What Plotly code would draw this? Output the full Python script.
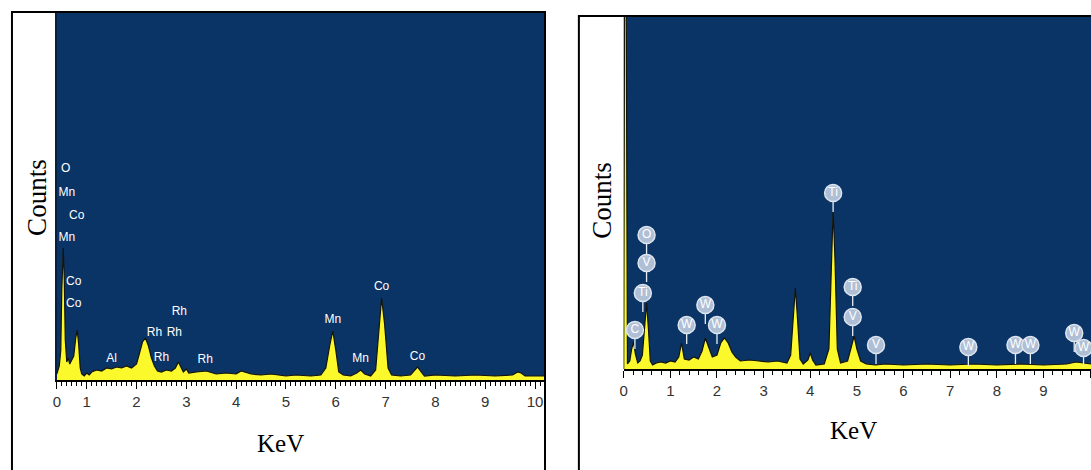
import plotly.graph_objects as go

# ---------------- Left spectrum (Co / Mn / Rh sample) ----------------
left_kev = [0.40, 0.42, 0.45, 0.48, 0.50, 0.53, 0.55, 0.57, 0.60, 0.63, 0.66, 0.70, 0.74, 0.78,
            0.81, 0.84, 0.87, 0.90, 0.95, 1.00, 1.05, 1.10, 1.20, 1.30, 1.40, 1.50, 1.60, 1.70,
            1.80, 1.90, 2.00, 2.05, 2.12, 2.18, 2.24, 2.30, 2.36, 2.42, 2.50, 2.60, 2.70, 2.78,
            2.84, 2.88, 2.94, 3.00, 3.05, 3.20, 3.40, 3.60, 3.80, 4.00, 4.10, 4.30, 4.50, 4.70,
            5.00, 5.20, 5.50, 5.70, 5.80, 5.88, 5.94, 6.00, 6.06, 6.15, 6.30, 6.42, 6.50, 6.58,
            6.70, 6.80, 6.86, 6.92, 6.98, 7.05, 7.12, 7.30, 7.50, 7.58, 7.64, 7.70, 7.78, 8.00,
            8.40, 8.80, 9.20, 9.55, 9.65, 9.72, 9.80, 10.20]
left_counts = [6, 10, 14, 30, 90, 132, 100, 40, 18, 22, 16, 20, 24, 42,
               50, 35, 12, 6, 4, 7, 5, 8, 10, 9, 12, 11, 13, 12,
               14, 12, 16, 25, 38, 42, 34, 22, 14, 9, 8, 10, 9, 12,
               18, 14, 8, 11, 7, 8, 9, 6, 7, 6, 9, 6, 5, 6,
               4, 5, 4, 5, 12, 35, 49, 30, 8, 5, 4, 7, 10, 6,
               4, 10, 50, 82, 56, 12, 5, 4, 5, 10, 13, 9, 4, 5,
               4, 5, 4, 5, 8, 7, 4, 4]

left_label_text = ["O", "Mn", "Co", "Mn", "Co", "Co", "Al", "Rh", "Rh", "Rh", "Rh", "Rh",
                   "Mn", "Mn", "Co", "Co"]
left_label_kev = [0.58, 0.60, 0.80, 0.60, 0.74, 0.74, 1.50, 2.36, 2.76, 2.86, 2.50, 3.38,
                  5.94, 6.50, 6.92, 7.64]
left_label_counts = [211, 187, 164, 142, 98, 76, 21, 47, 47, 68, 22, 20,
                     60, 21, 93, 23]

left_tickvals = [0.4, 1, 2, 3, 4, 5, 6, 7, 8, 9, 10]
left_ticktext = ["0", "1", "2", "3", "4", "5", "6", "7", "8", "9", "10"]

# ---------------- Right spectrum (Ti / V / W sample) ----------------
right_kev = [0.00, 0.02, 0.05, 0.08, 0.13, 0.17, 0.21, 0.25, 0.30, 0.35, 0.40, 0.45, 0.49, 0.53,
             0.57, 0.62, 0.70, 0.80, 0.90, 1.00, 1.10, 1.18, 1.24, 1.30, 1.40, 1.50, 1.60, 1.68,
             1.75, 1.82, 1.90, 2.00, 2.08, 2.16, 2.24, 2.32, 2.40, 2.50, 2.70, 2.90, 3.10, 3.30,
             3.50, 3.58, 3.64, 3.68, 3.72, 3.78, 3.85, 3.95, 4.00, 4.05, 4.12, 4.30, 4.40, 4.46,
             4.49, 4.53, 4.58, 4.65, 4.80, 4.88, 4.94, 5.00, 5.08, 5.20, 5.40, 5.60, 6.00, 6.50,
             7.00, 7.50, 8.00, 8.50, 9.00, 9.50, 9.70, 10.02]
right_counts = [0, 420, 420, 5, 8, 20, 27, 15, 6, 8, 14, 40, 66, 40,
                8, 4, 6, 7, 6, 8, 7, 12, 26, 10, 9, 12, 10, 18,
                31, 22, 12, 14, 26, 31, 26, 17, 12, 8, 9, 8, 7, 8,
                6, 14, 50, 81, 55, 10, 5, 9, 16, 9, 4, 5, 20, 110,
                159, 110, 20, 6, 8, 22, 33, 20, 8, 5, 4, 5, 4, 5,
                4, 5, 4, 5, 4, 5, 7, 5]

right_label_text = ["C", "O", "V", "Ti", "W", "W", "W", "Ti", "Ti", "V", "V",
                    "W", "W", "W", "W", "W"]
right_label_kev = [0.24, 0.49, 0.49, 0.41, 1.35, 1.75, 2.00, 4.49, 4.91, 4.91, 5.41,
                   7.39, 8.40, 8.72, 9.66, 9.86]
right_label_counts = [39, 134, 106, 76, 44, 64, 44, 176, 82, 52, 24,
                      22, 24, 24, 36, 21]

right_tickvals = [0, 1, 2, 3, 4, 5, 6, 7, 8, 9, 10]
right_ticktext = ["0", "1", "2", "3", "4", "5", "6", "7", "8", "9", "10"]

# ---------------- Style ----------------
W, H = 1091, 470
BLUE = "#0b3466"
YELLOW = "#fbf82c"
NARROW = "Liberation Sans Narrow, Arial Narrow, Liberation Sans, sans-serif"
SERIF = "Liberation Serif, Times New Roman, serif"
STEM = 19

fig = go.Figure()

# left spectrum
fig.add_trace(go.Scatter(x=left_kev, y=left_counts, mode="lines", fill="tozeroy",
                         fillcolor=YELLOW, line=dict(color="#14140a", width=1.2),
                         xaxis="x", yaxis="y", hoverinfo="skip", showlegend=False))
fig.add_trace(go.Scatter(x=left_label_kev, y=left_label_counts, mode="text",
                         text=left_label_text, textposition="middle center",
                         textfont=dict(family=NARROW, size=12, color="white"),
                         xaxis="x", yaxis="y", hoverinfo="skip", showlegend=False))

# right spectrum
fig.add_trace(go.Scatter(x=right_kev, y=right_counts, mode="lines", fill="tozeroy",
                         fillcolor=YELLOW, line=dict(color="#14140a", width=1.2),
                         xaxis="x2", yaxis="y2", hoverinfo="skip", showlegend=False))

# stems under the marker circles
stem_x, stem_y = [], []
for k, c in zip(right_label_kev, right_label_counts):
    stem_x += [k, k, None]
    stem_y += [c, c - STEM, None]
fig.add_trace(go.Scatter(x=stem_x, y=stem_y, mode="lines",
                         line=dict(color="#e8eef5", width=1.3),
                         xaxis="x2", yaxis="y2", hoverinfo="skip", showlegend=False))
fig.add_trace(go.Scatter(x=right_label_kev, y=right_label_counts, mode="markers+text",
                         text=right_label_text, textposition="middle center",
                         marker=dict(size=17, color="#aebfd6",
                                     line=dict(color="#dde5ef", width=1.5)),
                         textfont=dict(family=NARROW, size=12, color="white"),
                         xaxis="x2", yaxis="y2", hoverinfo="skip", showlegend=False,
                         cliponaxis=False))

axis_common = dict(showgrid=False, zeroline=False, showline=True, linecolor="black",
                   linewidth=1.5, ticks="outside", ticklen=7, tickwidth=1.2,
                   tickcolor="black", tickfont=dict(family=NARROW, size=15, color="#333333"),
                   fixedrange=True)

fig.update_layout(
    width=W, height=H,
    margin=dict(l=0, r=0, t=0, b=0),
    paper_bgcolor="white",
    plot_bgcolor=BLUE,
    xaxis=dict(domain=[53 / W, 543 / W], range=[0.4, 10.2], anchor="y",
               tickmode="array", tickvals=left_tickvals, ticktext=left_ticktext,
               minor=dict(tickmode="linear", tick0=0, dtick=0.1, ticks="outside",
                          ticklen=4, tickcolor="black"),
               **axis_common),
    yaxis=dict(domain=[1 - 380 / H, 1 - 13 / H], range=[0, 367], anchor="x",
               showgrid=False, zeroline=False, showticklabels=False, ticks="",
               showline=True, linecolor="#07203f", linewidth=2, fixedrange=True),
    xaxis2=dict(domain=[622 / W, 1.0], range=[0, 10.02], anchor="y2",
                tickmode="array", tickvals=right_tickvals, ticktext=right_ticktext,
                minor=dict(tickmode="linear", tick0=0, dtick=0.2, ticks="outside",
                           ticklen=4, tickcolor="black"),
                **axis_common),
    yaxis2=dict(domain=[1 - 369 / H, 1 - 17 / H], range=[0, 352], anchor="x2",
                showgrid=False, zeroline=False, showticklabels=False, ticks="",
                showline=False, fixedrange=True),
    shapes=[
        dict(type="rect", xref="paper", yref="paper", x0=8 / W, x1=543 / W,
             y0=-0.05, y1=1 - 12 / H, line=dict(color="black", width=2)),
        dict(type="rect", xref="paper", yref="paper", x0=577 / W, x1=1.05,
             y0=-0.05, y1=1 - 16 / H, line=dict(color="black", width=2)),
    ],
    annotations=[
        dict(text="Counts", xref="paper", yref="paper", x=33 / W, y=1 - 197 / H,
             xanchor="center", yanchor="middle",
             textangle=-90, showarrow=False, font=dict(family=SERIF, size=27, color="black")),
        dict(text="KeV", xref="paper", yref="paper", x=278 / W, y=1 - 443 / H,
             xanchor="center", yanchor="middle",
             showarrow=False, font=dict(family=SERIF, size=25, color="black")),
        dict(text="Counts", xref="paper", yref="paper", x=600 / W, y=1 - 200 / H,
             xanchor="center", yanchor="middle",
             textangle=-90, showarrow=False, font=dict(family=SERIF, size=27, color="black")),
        dict(text="KeV", xref="paper", yref="paper", x=853 / W, y=1 - 430 / H,
             xanchor="center", yanchor="middle",
             showarrow=False, font=dict(family=SERIF, size=25, color="black")),
    ],
)

fig.write_html("out.html")
